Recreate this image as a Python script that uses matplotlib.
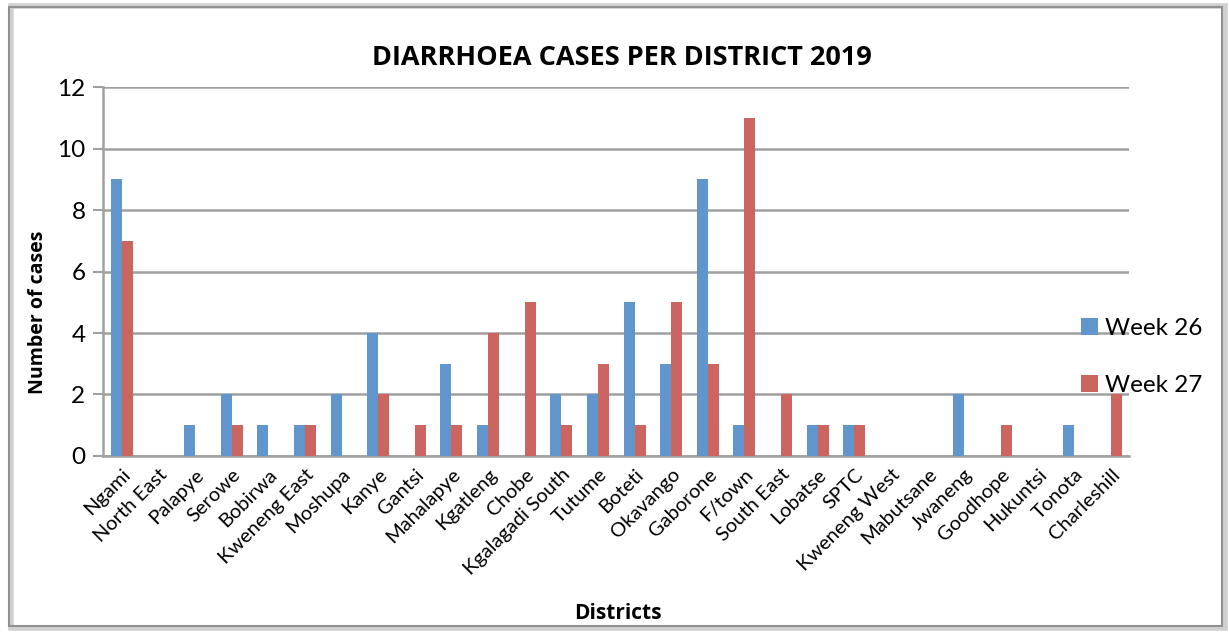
import numpy as np
import matplotlib.pyplot as plt
from matplotlib.patches import Rectangle

plt.rcParams['font.family'] = ['Lato', 'DejaVu Sans']
BOLD = ['Open Sans', 'DejaVu Sans']

# ------------------------------------------------
# Data
# ------------------------------------------------
districts = ["Ngami", "North East", "Palapye", "Serowe", "Bobirwa", "Kweneng East",
             "Moshupa", "Kanye", "Gantsi", "Mahalapye", "Kgatleng", "Chobe",
             "Kgalagadi South", "Tutume", "Boteti", "Okavango", "Gaborone", "F/town",
             "South East", "Lobatse", "SPTC", "Kweneng West", "Mabutsane", "Jwaneng",
             "Goodhope", "Hukuntsi", "Tonota", "Charleshill"]
week26 = [9, 0, 1, 2, 1, 1, 2, 4, 0, 3, 1, 0, 2, 2, 5, 3, 9, 1, 0, 1, 1, 0, 0, 2, 0, 0, 1, 0]
week27 = [7, 0, 0, 1, 0, 1, 0, 2, 1, 1, 4, 5, 1, 3, 1, 5, 3, 11, 2, 1, 1, 0, 0, 0, 1, 0, 0, 2]

# ------------------------------------------------
# Plot
# ------------------------------------------------
fig = plt.figure(figsize=(12.29, 6.32), dpi=100)
ax = fig.add_axes([0.0842, 0.2785, 0.8345, 0.5838])

x = np.arange(len(districts))
w = 0.3
ax.bar(x - w / 2, week26, w, color="#6196CC", label="Week 26", zorder=3)
ax.bar(x + w / 2, week27, w, color="#CC6560", label="Week 27", zorder=3)

ax.set_xlim(-0.5, len(districts) - 0.5)
ax.set_ylim(0, 12)
ax.set_yticks(range(0, 13, 2))
ax.yaxis.grid(True, color="#A0A0A0", linewidth=1.8, zorder=0)
ax.tick_params(axis="y", labelsize=17.5, length=7, width=1.5, color="#A0A0A0", pad=6)
ax.tick_params(axis="x", length=0, pad=7)
ax.set_xticks(x)
ax.set_xticklabels(districts, rotation=45, ha="right", va="top",
                   rotation_mode="anchor", fontsize=14.5)

for side in ["top", "right"]:
    ax.spines[side].set_visible(False)
for side in ["left", "bottom"]:
    ax.spines[side].set_color("#A0A0A0")
    ax.spines[side].set_linewidth(1.8)

ax.set_ylabel("Number of cases", fontsize=14, fontweight="bold", family=BOLD)
ax.yaxis.set_label_coords(-0.054, 0.39)
fig.text(0.503, 0.029, "Districts", ha="center", va="center",
         fontsize=15, fontweight="bold", family=BOLD)
fig.text(0.506, 0.908, "DIARRHOEA CASES PER DISTRICT 2019", ha="center", va="center",
         fontsize=19.5, fontweight="bold", family=BOLD)

fig.legend(loc="center left", bbox_to_anchor=(0.8796, 0.435), frameon=False,
           fontsize=17.5, handlelength=0.7, handleheight=0.7, handletextpad=0.3,
           labelspacing=1.5, borderpad=0, borderaxespad=0)

# figure border with shadow
fig.patches.append(Rectangle((0.009, 0.006), 0.988, 0.984, transform=fig.transFigure,
                             fill=False, edgecolor="#D0D0D0", linewidth=4, zorder=0))
fig.patches.append(Rectangle((0.007, 0.01), 0.987, 0.979, transform=fig.transFigure,
                             fill=False, edgecolor="#909090", linewidth=1.5, zorder=1))

fig.savefig("out.png", dpi=100)
